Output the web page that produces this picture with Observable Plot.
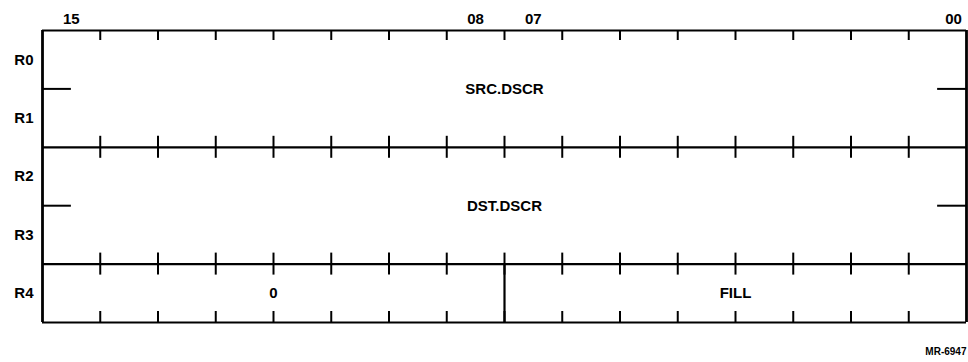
<!DOCTYPE html>
<html>
<head>
<meta charset="utf-8">
<script src="https://cdn.jsdelivr.net/npm/d3@7"></script>
<script src="https://cdn.jsdelivr.net/npm/@observablehq/plot@0.6"></script>
<style>
  html, body { margin: 0; padding: 0; background: #fff; }
  #chart { width: 968px; height: 362px; }
</style>
</head>
<body>
<div id="chart"></div>
<script>
// ---- data ----
const rowNames = ["R0", "R1", "R2", "R3", "R4"];
const bitLabelBits = [15, 8, 7];
const bitLabelTexts = ["15", "08", "07"];
const lastBitLabelBit = 0;
const lastBitLabelText = "00";
const fieldNames = ["SRC.DSCR", "DST.DSCR", "0", "FILL"];
const fieldFirstRow = [0, 2, 4, 4];
const fieldLastRow = [1, 3, 4, 4];
const fieldHighBit = [15, 15, 15, 7];
const fieldLowBit = [0, 0, 8, 0];
const captionText = "MR-6947";

// ---- derived tables ----
const nBits = 16;
const nRows = rowNames.length;
const rows = rowNames.map((name, i) => ({name, y: i + 0.5}));
const bitLabels = bitLabelBits.map((b, i) => ({x: b + 0.5, text: bitLabelTexts[i]}));
const fields = fieldNames.map((name, i) => ({
  name,
  x: (fieldHighBit[i] + 1 + fieldLowBit[i]) / 2,
  y: (fieldFirstRow[i] + fieldLastRow[i] + 1) / 2,
  first: fieldFirstRow[i], last: fieldLastRow[i],
  hi: fieldHighBit[i], lo: fieldLowBit[i]
}));
const lines = Array.from(new Set(fields.flatMap(f => [f.first, f.last + 1]))).sort((a, b) => a - b);
const dividers = [];
fields.forEach(f => {
  if (f.lo > 0) dividers.push({x: f.lo, y1: f.first, y2: f.last + 1});
});
const stubs = [];
fields.forEach(f => {
  for (let r = f.first + 1; r <= f.last; r++) {
    stubs.push({x1: nBits, x2: nBits - 0.5, y: r});
    stubs.push({x1: 0.5, x2: 0, y: r});
  }
});
const boundaries = d3.range(1, nBits);
const topTicks = [], midTicks = [], bottomTicks = [];
lines.forEach(ly => {
  boundaries.forEach(b => {
    const t = {x: b, y: ly};
    if (ly === 0) topTicks.push(t);
    else if (ly === nRows) bottomTicks.push(t);
    else midTicks.push(t);
  });
});

const FS = 15;
const chart = Plot.plot({
  width: 968,
  height: 362,
  marginLeft: 42,
  marginRight: 2,
  marginTop: 30,
  marginBottom: 40,
  x: {domain: [nBits, 0], axis: null},
  y: {domain: [0, nRows], reverse: true, axis: null},
  style: {fontFamily: "'Liberation Sans', Arial, sans-serif", fontSize: "15px", background: "#fff", color: "#000"},
  marks: [
    // horizontal field boundaries
    Plot.ruleY(lines, {y: d => d, x1: nBits, x2: 0, stroke: "#000", strokeWidth: 2.2}),
    // left/right borders
    Plot.ruleX([nBits, 0], {x: d => d, y1: 0, y2: nRows, stroke: "#000", strokeWidth: 2.8}),
    // field dividers
    Plot.ruleX(dividers, {x: "x", y1: "y1", y2: "y2", stroke: "#000", strokeWidth: 2.2}),
    // bit ticks
    Plot.ruleX(topTicks, {x: "x", y1: "y", y2: "y", insetTop: 0, insetBottom: -10, stroke: "#000", strokeWidth: 2}),
    Plot.ruleX(midTicks, {x: "x", y1: "y", y2: "y", insetTop: -11, insetBottom: -11, stroke: "#000", strokeWidth: 2}),
    Plot.ruleX(bottomTicks, {x: "x", y1: "y", y2: "y", insetTop: -11, insetBottom: 0, stroke: "#000", strokeWidth: 2}),
    // mid-register stubs
    Plot.ruleY(stubs, {y: "y", x1: "x1", x2: "x2", stroke: "#000", strokeWidth: 2}),
    // bit number labels
    Plot.text(bitLabels, {x: "x", y: 0, text: "text", dy: -11, fontSize: FS, fontWeight: "bold", fill: "#000"}),
    Plot.text([lastBitLabelText], {x: lastBitLabelBit + 0.5, y: 0, text: d => d, dy: -11, dx: 16, fontSize: FS, fontWeight: "bold", fill: "#000"}),
    // register names
    Plot.text(rows, {x: nBits, y: "y", text: "name", textAnchor: "end", dx: -9, fontSize: FS, fontWeight: "bold", fill: "#000"}),
    // field names
    Plot.text(fields, {x: "x", y: "y", text: "name", fontSize: FS, fontWeight: "bold", fill: "#000", letterSpacing: "1px"}),
    // caption
    Plot.text([captionText], {frameAnchor: "bottom-right", text: d => d, dy: 32, dx: 0, fontSize: 10, fontWeight: "bold", fill: "#000", textAnchor: "end"})
  ]
});
document.getElementById("chart").appendChild(chart);
</script>
</body>
</html>
